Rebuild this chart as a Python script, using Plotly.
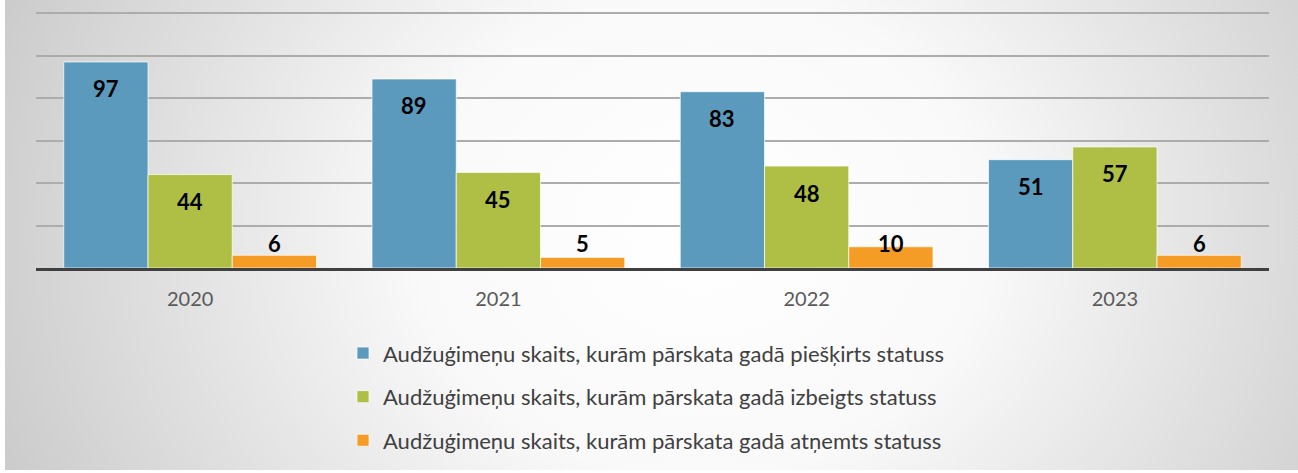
import base64
import plotly.graph_objects as go

# ---- data ----
years = ["2020", "2021", "2022", "2023"]
granted = [97, 89, 83, 51]
ended = [44, 45, 48, 57]
revoked = [6, 5, 10, 6]
series_names = [
    "Audžuģimeņu skaits, kurām pārskata gadā piešķirts statuss",
    "Audžuģimeņu skaits, kurām pārskata gadā izbeigts statuss",
    "Audžuģimeņu skaits, kurām pārskata gadā atņemts statuss",
]
colors = ["#5B9ABD", "#AFBF45", "#F49C25"]

W, H = 1298, 473
ML, MR, MT, MB = 36, 29, 11, 205
YMAX = 121
FONT = "Lato, 'Open Sans', sans-serif"
BARGAP = 0.18

fig = go.Figure()
all_series = [granted, ended, revoked]
for k, (name, vals, col) in enumerate(zip(series_names, all_series, colors)):
    fig.add_trace(go.Bar(
        x=years, y=vals, name=name,
        marker=dict(color=col, line=dict(color="rgba(255,255,255,0.7)", width=1)),
        legendgroup=f"g{k}",
        hoverinfo="x+y",
    ))

pw, ph = W - ML - MR, H - MT - MB
px_per_unit = ph / YMAX

# data labels: "inside end", clamped so the label box stays above the axis
bw = (1 - BARGAP) / 3
for k, vals in enumerate(all_series):
    for i, v in enumerate(vals):
        inside = v * px_per_unit - 27
        if inside >= 25:
            yv, ys = v, -27
        else:
            yv, ys = 0, 25
        fig.add_annotation(x=i + (k - 1) * bw, y=yv, text=f"<b>{v}</b>",
                           showarrow=False, yanchor="middle", yshift=ys,
                           font=dict(family=FONT, size=22, color="#000000"))

svg = f'''<svg xmlns="http://www.w3.org/2000/svg" width="{W}" height="{H}" viewBox="0 0 {W} {H}" preserveAspectRatio="none">
<defs><radialGradient id="g" gradientUnits="userSpaceOnUse" cx="0" cy="0" r="1" gradientTransform="translate(700 230) scale(820 700)">
<stop offset="0" stop-color="#ffffff"/><stop offset="0.35" stop-color="#f9f9f9"/><stop offset="1" stop-color="#c4c4c4"/></radialGradient></defs>
<rect x="0" y="0" width="{W}" height="{H}" fill="#ffffff"/>
<rect x="5" y="0" width="{W-5}" height="{H-3}" fill="url(#g)"/>
</svg>'''
uri = "data:image/svg+xml;base64," + base64.b64encode(svg.encode()).decode()
fig.add_layout_image(dict(source=uri, xref="paper", yref="paper",
                          x=-ML / pw, y=1 + MT / ph, sizex=W / pw, sizey=H / ph,
                          xanchor="left", yanchor="top", sizing="stretch", layer="below"))

fig.update_layout(
    width=W, height=H,
    margin=dict(l=ML, r=MR, t=MT, b=MB),
    paper_bgcolor="rgba(0,0,0,0)", plot_bgcolor="rgba(0,0,0,0)",
    barmode="group", bargap=BARGAP, bargroupgap=0,
    font=dict(family=FONT, color="#404040"),
    showlegend=True,
    legend=dict(orientation="v", x=(343 - ML) / pw, xanchor="left", y=-0.25, yanchor="top",
                font=dict(family=FONT, size=22, color="#404040"),
                tracegroupgap=12, bgcolor="rgba(0,0,0,0)"),
    xaxis=dict(showline=True, linecolor="#404040", linewidth=3, showgrid=False,
               ticks="", tickfont=dict(family=FONT, size=20, color="#595959"),
               ticklabelstandoff=11),
    yaxis=dict(range=[0, YMAX], dtick=20, showgrid=True, gridcolor="#acacac", gridwidth=1.5,
               showticklabels=False, zeroline=False, showline=False),
)

fig.write_html("out.html", config={"displayModeBar": False},
               post_script="document.body.style.margin='0';")
